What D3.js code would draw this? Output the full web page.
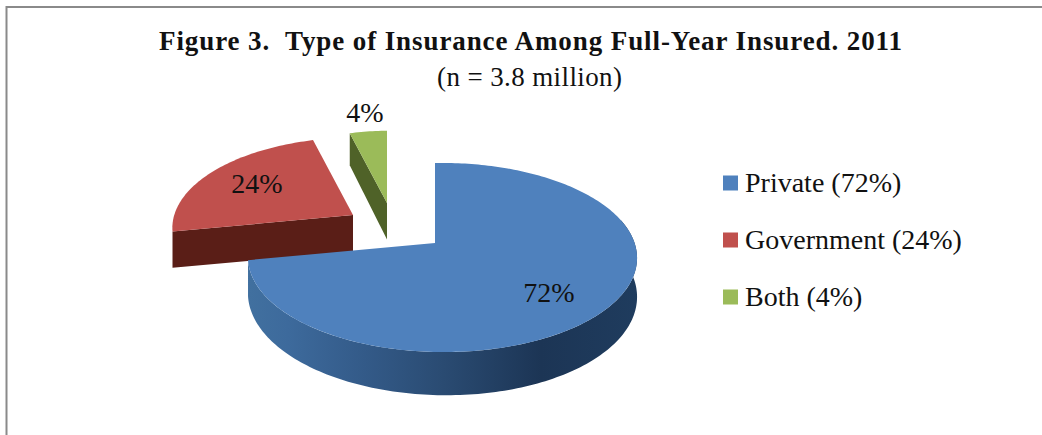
<!DOCTYPE html>
<html><head><meta charset="utf-8">
<script src="https://cdn.jsdelivr.net/npm/d3@7"></script>
<style>html,body{margin:0;padding:0;background:#fff}svg{display:block}text{font-family:"Liberation Serif",serif;fill:#111;white-space:pre}</style>
</head><body><svg id="c" width="1042" height="435"></svg>
<script>
const categories=["Private","Government","Both"];
const values=[72,24,4];
const legendLabels=["Private (72%)","Government (24%)","Both (4%)"];
const dataLabels=["72%","24%","4%"];
const faceColors=["#4f81bd","#c0504d","#9bbb59"];
const wallColors=["#2a4a70","#5a1e17","#4f6228"];
const titleText="Figure 3.  Type of Insurance Among Full-Year Insured. 2011";
const subtitleText="(n = 3.8 million)";
const pivots=[[435,243],[353,215],[387,203]];
const radiusScale=[1,0.965,0.89];

const svg=d3.select("#c");
const defs=svg.append("defs");
const g=defs.append("linearGradient").attr("id","rim").attr("gradientUnits","userSpaceOnUse")
 .attr("x1",249).attr("x2",638).attr("y1",0).attr("y2",0);
[[0,"#41709f"],[.1,"#3d6a9c"],[.3,"#335a88"],[.5,"#2a4b72"],[.75,"#1c3555"],[1,"#1f3c5e"]].forEach(s=>g.append("stop").attr("offset",s[0]).attr("stop-color",s[1]));

svg.append("path").attr("d","M6.5 435V7H1042").attr("fill","none").attr("stroke","#8a8a8a").attr("stroke-width",2);

// projection of the tilted disc
const A=192,K=92.3,G=-0.038,H=0.153,D=36.5;
function proj(a,r,piv,lift){
  const u=r*Math.sin(a),v=r*Math.cos(a),w=1+G*u+H*v;
  return [piv[0]+A*u/w, piv[1]-K*v/w+(lift?D/w:0)];
}
const arcs=d3.pie().sort(null)(values);
const line=d3.line();
function samples(a0,a1){const n=Math.max(2,Math.ceil(Math.abs(a1-a0)/0.02));return d3.range(n+1).map(i=>a0+(a1-a0)*i/n);}

function drawSlice(i){
  const s=arcs[i],p=pivots[i],r=radiusScale[i];
  const rim=samples(s.startAngle,s.endAngle);
  if(i===0){
    const vis=samples(Math.PI*0.42,s.endAngle);
    const pts=vis.map(a=>proj(a,r,p,false)).concat(vis.slice().reverse().map(a=>proj(a,r,p,true)));
    svg.append("path").attr("d",line(pts)+"Z").attr("fill","url(#rim)");
    svg.append("path").attr("d",line([proj(0,0,p,false),proj(0,r,p,false),[p[0]+2.5,proj(0,r,p,false)[1]+1],[p[0]+2.5,p[1]]])+"Z").attr("fill","#1f3c5e");
  }
  if(i===1){
    const a=proj(s.startAngle,r,p,false),e2=proj(s.startAngle,r,p,true);
    const c=proj(0,0,p,false),c2=proj(0,0,p,true);
    svg.append("path").attr("d",line([c,a,e2,c2])+"Z").attr("fill",wallColors[1]);
  }
  if(i===2){
    const a=proj(s.startAngle,r,p,false),a2=proj(s.startAngle,r,p,true);
    const c=proj(0,0,p,false),c2=proj(0,0,p,true);
    svg.append("path").attr("d",line([a,c,c2,a2])+"Z").attr("fill",wallColors[2]);
  }
  const face=[proj(0,0,p,false)].concat(rim.map(a=>proj(a,r,p,false)));
  svg.append("path").attr("d",line(face)+"Z").attr("fill",faceColors[i]);
}
[2,1,0].forEach(drawSlice);

// data labels
const labelPos=[[549,302],[257,193],[365,122]];
dataLabels.forEach((t,i)=>svg.append("text").attr("x",labelPos[i][0]).attr("y",labelPos[i][1]).attr("text-anchor","middle").attr("font-size",28).text(t));

// title
svg.append("text").attr("x",530.5).attr("y",50).attr("text-anchor","middle").attr("font-size",27).attr("font-weight","bold").attr("textLength",743).attr("lengthAdjust","spacing").text(titleText);
svg.append("text").attr("x",529.5).attr("y",86).attr("text-anchor","middle").attr("font-size",27).attr("textLength",185).attr("lengthAdjust","spacing").text(subtitleText);

// legend
const ly=d3.scalePoint().domain(categories).range([183,297]);
categories.forEach((c,i)=>{
  svg.append("rect").attr("x",723).attr("y",ly(c)-7.5).attr("width",15).attr("height",15).attr("fill",faceColors[i]);
  svg.append("text").attr("x",745).attr("y",ly(c)+9).attr("font-size",28).text(legendLabels[i]);
});
</script></body></html>
